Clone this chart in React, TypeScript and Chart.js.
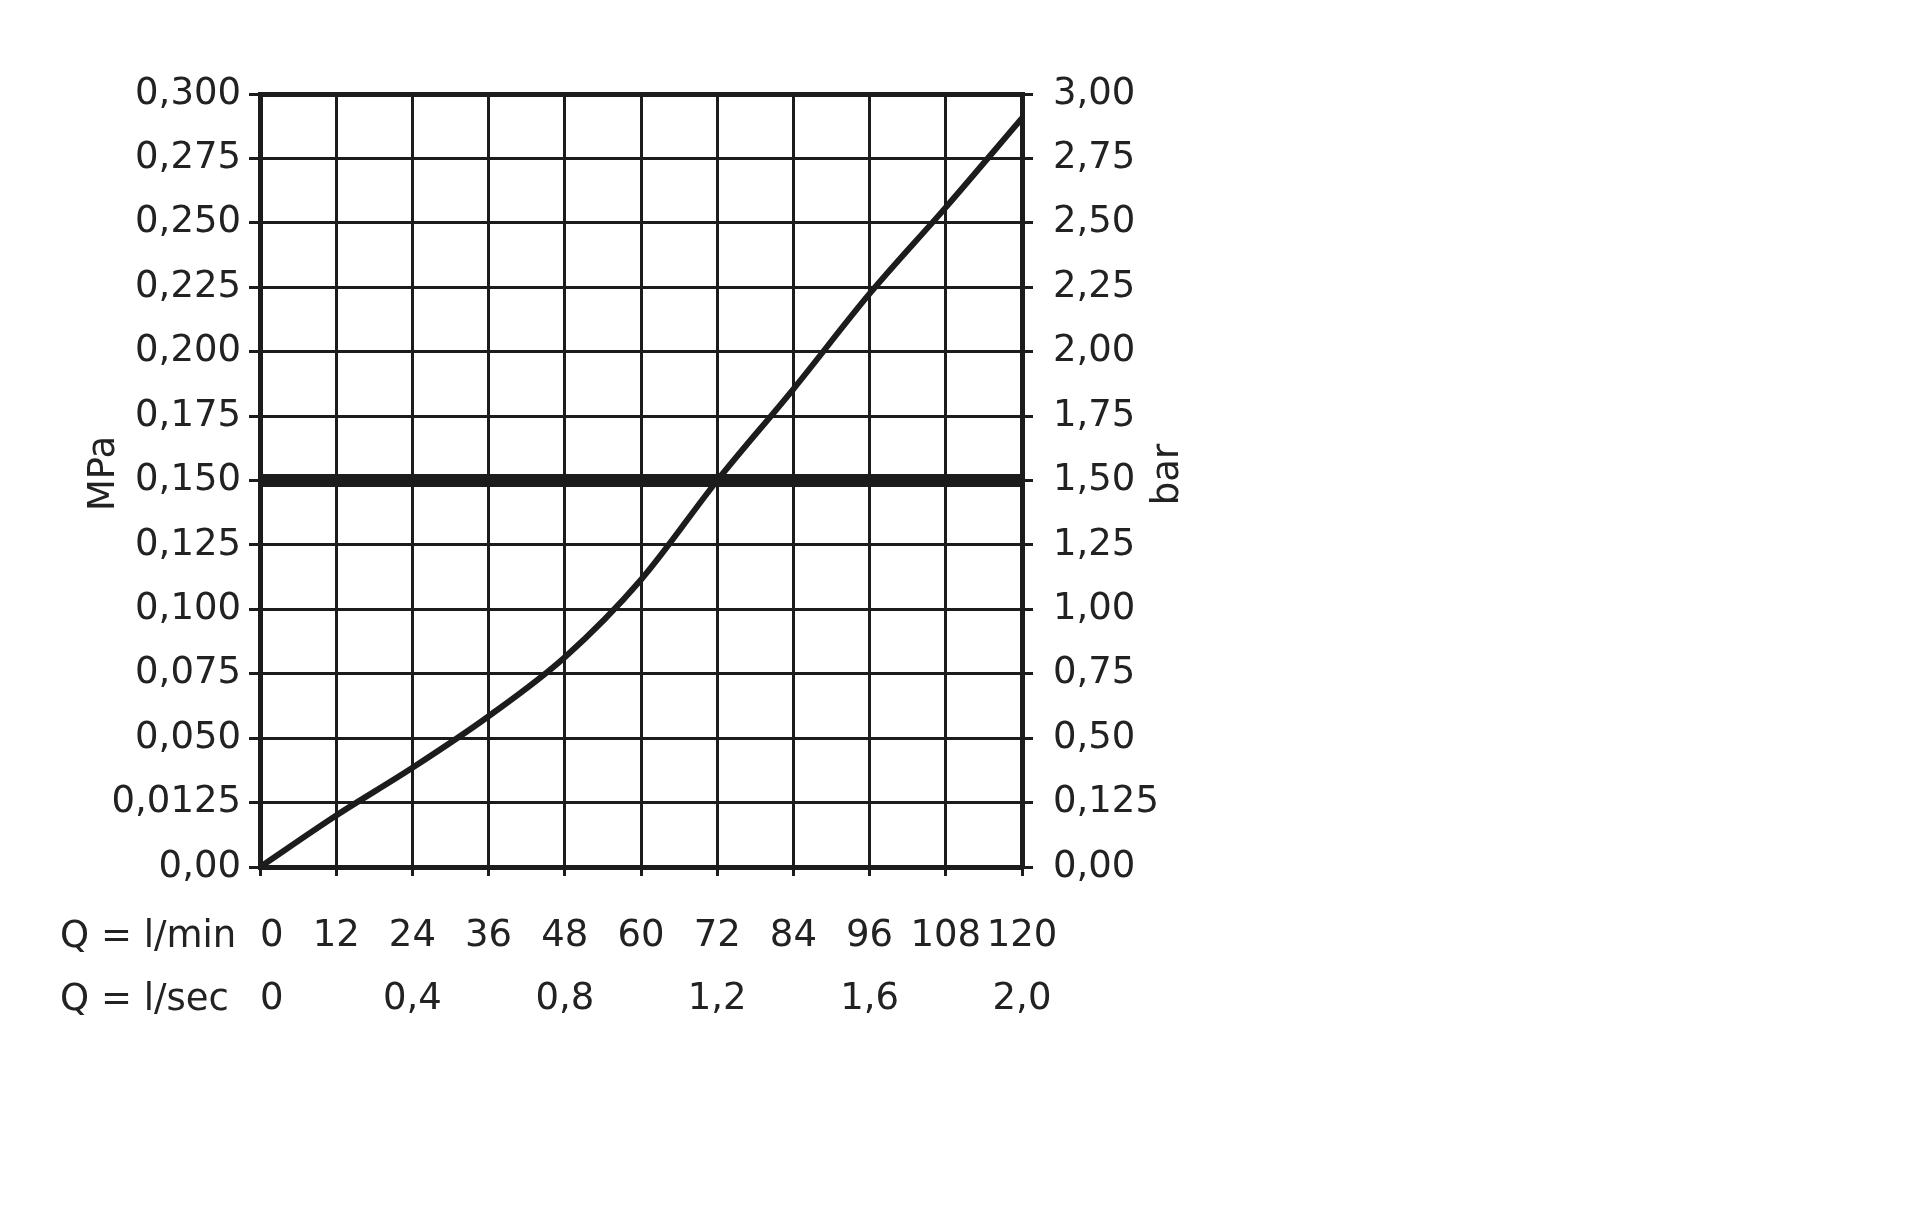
import React, { useEffect, useRef } from 'react';
import { Chart, registerables } from 'chart.js';

Chart.register(...registerables);

// ---- data ----
const flowLpm = [0, 12, 24, 36, 48, 60, 72, 84, 96, 108, 120];
const pressureMPa = [0, 0.0200, 0.0385, 0.0585, 0.0814, 0.1115, 0.15, 0.1855, 0.2225, 0.2560, 0.2906];
const thresholdMPa = 0.15;
const thresholdRangeLpm = [0, 120];

const lpmTickLabels = ['  0', '12', '24', '36', '48', '60', '72', '84', '96', '108', '120'];
const lsecTickLabels = ['  0', '', '0,4', '', '0,8', '', '1,2', '', '1,6', '', '2,0'];
const mpaTickLabels = ['0,00', '0,0125', '0,050', '0,075', '0,100', '0,125', '0,150', '0,175', '0,200', '0,225', '0,250', '0,275', '0,300'];
const barTickLabels = ['0,00', '0,125', '0,50', '0,75', '1,00', '1,25', '1,50', '1,75', '2,00', '2,25', '2,50', '2,75', '3,00'];

const rowHeaders = ['Q = l/min', 'Q = l/sec'];
const leftTitle = 'MPa';
const rightTitle = 'bar';

const INK = '#1c1c1c';
const TEXT = '#222222';
const FONT = '"DejaVu Sans", sans-serif';

const textPlugin = {
  id: 'extraText',
  afterDraw(chart: any) {
    const { ctx, chartArea } = chart;
    ctx.save();
    ctx.fillStyle = TEXT;
    ctx.font = `37px ${FONT}`;
    ctx.textBaseline = 'middle';
    ctx.textAlign = 'left';
    ctx.fillText(rowHeaders[0], 52, chartArea.bottom + 70);
    ctx.fillText(rowHeaders[1], 52, chartArea.bottom + 133);

    const cy = (chartArea.top + chartArea.bottom) / 2;
    ctx.textAlign = 'center';
    ctx.save();
    ctx.translate(chartArea.left - 156, cy - 7);
    ctx.rotate(-Math.PI / 2);
    ctx.fillText(leftTitle, 0, 0);
    ctx.restore();

    ctx.save();
    ctx.translate(chartArea.right + 146, cy - 6);
    ctx.rotate(-Math.PI / 2);
    ctx.fillText(rightTitle, 0, 0);
    ctx.restore();
    ctx.restore();
  },
};

export default function App() {
  const canvasRef = useRef<HTMLCanvasElement | null>(null);

  useEffect(() => {
    if (!canvasRef.current) return;
    const curve = flowLpm.map((x, i) => ({ x, y: pressureMPa[i] }));
    const threshold = thresholdRangeLpm.map((x) => ({ x, y: thresholdMPa }));

    const chart = new Chart(canvasRef.current, {
      type: 'line',
      data: {
        datasets: [
          {
            data: threshold,
            borderColor: INK,
            borderWidth: 13,
            borderCapStyle: 'butt',
            pointRadius: 0,
            yAxisID: 'y',
          },
          {
            data: curve,
            borderColor: INK,
            borderWidth: 6,
            pointRadius: 0,
            cubicInterpolationMode: 'monotone',
            yAxisID: 'y',
          },
        ],
      },
      options: {
        animation: false,
        responsive: true,
        maintainAspectRatio: false,
        layout: { padding: { left: 0, top: 86, right: 710, bottom: 141 } },
        plugins: { legend: { display: false }, tooltip: { enabled: false } },
        scales: {
          x: {
            type: 'linear',
            position: 'bottom',
            min: 0,
            max: 120,
            afterFit: (s: any) => { s.height = 200; },
            ticks: {
              stepSize: 12,
              color: TEXT,
              padding: 29,
              maxRotation: 0,
              autoSkip: false,
              font: { family: FONT, size: 37, lineHeight: 63 / 37 },
              callback: (_v: any, i: number) => [lpmTickLabels[i], lsecTickLabels[i]],
            },
            grid: { color: INK, lineWidth: 3, tickLength: 9, tickWidth: 3, tickColor: INK },
            border: { color: INK, width: 5 },
          },
          y: {
            type: 'linear',
            position: 'left',
            min: 0,
            max: 0.3,
            afterFit: (s: any) => { s.width = 252; },
            ticks: {
              stepSize: 0.025,
              color: TEXT,
              padding: 8,
              autoSkip: false,
              font: { family: FONT, size: 37 },
              callback: (_v: any, i: number) => mpaTickLabels[i],
            },
            grid: {
              color: INK,
              lineWidth: (c: any) => (c.index === 12 ? 5 : 3),
              tickLength: 11,
              tickWidth: 3,
              tickColor: INK,
            },
            border: { color: INK, width: 5 },
          },
          y2: {
            type: 'linear',
            position: 'right',
            min: 0,
            max: 3,
            afterFit: (s: any) => { s.width = 180; },
            ticks: {
              stepSize: 0.25,
              color: TEXT,
              padding: 20,
              autoSkip: false,
              font: { family: FONT, size: 37 },
              callback: (_v: any, i: number) => barTickLabels[i],
            },
            grid: { drawOnChartArea: false, color: INK, lineWidth: 3, tickLength: 11, tickWidth: 3, tickColor: INK },
            border: { color: INK, width: 5 },
          },
        },
      },
      plugins: [textPlugin],
    } as any);

    return () => chart.destroy();
  }, []);

  return (
    <div style={{ width: '1904px', height: '1200px', position: 'relative', background: '#fff' }}>
      <canvas ref={canvasRef} />
    </div>
  );
}
